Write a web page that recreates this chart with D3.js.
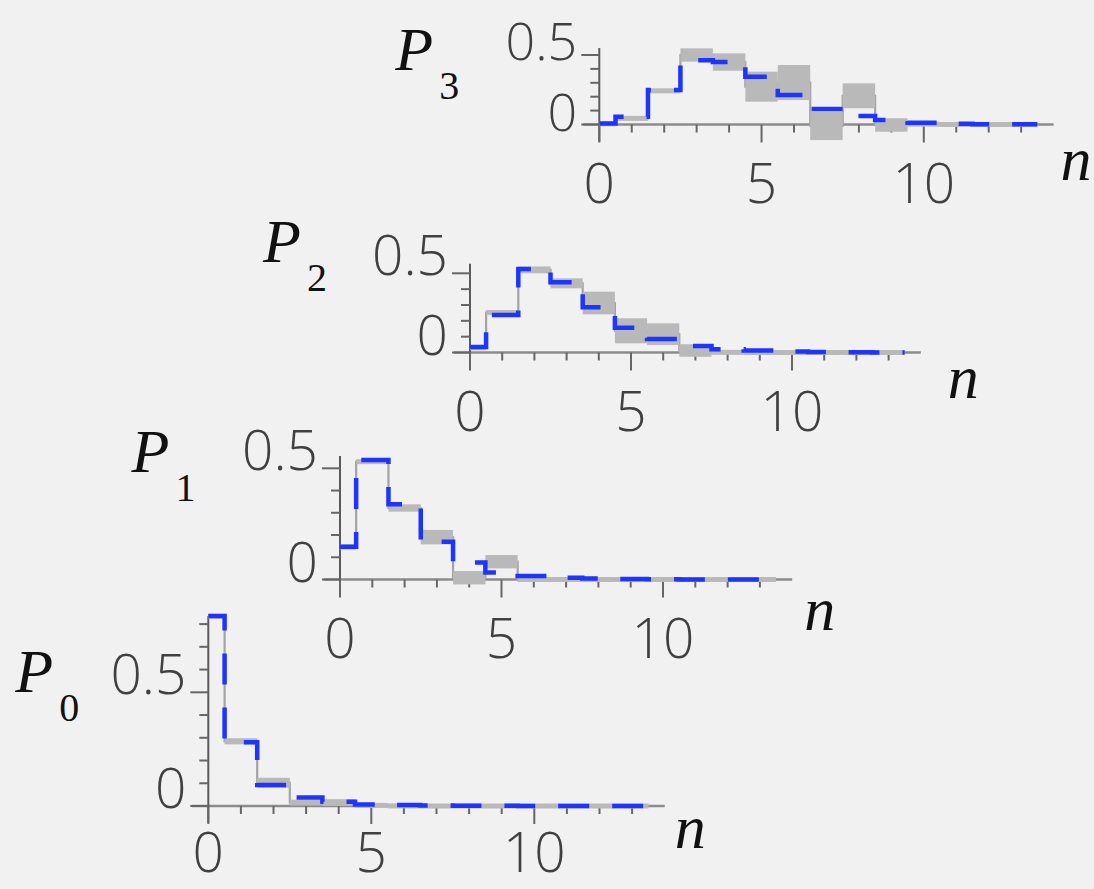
<!DOCTYPE html>
<html><head><meta charset="utf-8">
<script src="https://cdn.jsdelivr.net/npm/d3@7"></script>
<style>
html,body{margin:0;padding:0;background:#f1f1f1;}
svg{display:block;}
</style></head><body>
<svg id="chart" width="1094" height="889"></svg>
<script>
// ---------- data ----------
const nValues = d3.range(0, 14);          // n = 0 .. 13
const xTickValues = d3.range(0, 14);      // minor ticks every 1
const xMajorTicks = [0, 5, 10];           // labelled ticks
const yMajorTicks = [0, 0.5];             // labelled ticks

// P0
const p0Theory = [0.836, 0.280, 0.092, 0.037, 0.019, 0.007, 0.004, 0.002, 0.001, 0.001, 0, 0, 0, 0];
const p0Low    = [0.828, 0.271, 0.080, 0.002, 0.000, -0.005, -0.005, -0.005, -0.005, -0.005, -0.005, -0.005, -0.005, -0.005];
const p0High   = [0.840, 0.298, 0.124, 0.028, 0.030, 0.010, 0.006, 0.005, 0.005, 0.005, 0.005, 0.005, 0.005, 0.005];
// P1
const p1Theory = [0.147, 0.537, 0.338, 0.170, 0.077, 0.032, 0.016, 0.008, 0.004, 0.002, 0.001, 0, 0, 0];
const p1Low    = [0.140, 0.520, 0.305, 0.158, -0.022, 0.050, -0.008, -0.006, -0.006, -0.006, -0.006, -0.006, -0.006, -0.006];
const p1High   = [0.152, 0.540, 0.338, 0.223, 0.038, 0.110, 0.008, 0.006, 0.006, 0.006, 0.006, 0.006, 0.006, 0.006];
// P2
const p2Theory = [0.034, 0.237, 0.527, 0.443, 0.285, 0.157, 0.085, 0.041, 0.020, 0.012, 0.006, 0.003, 0.001, 0];
const p2Low    = [0.022, 0.245, 0.500, 0.405, 0.241, 0.058, 0.047, -0.027, -0.008, -0.008, -0.008, -0.008, -0.008, -0.008];
const p2High   = [0.040, 0.260, 0.543, 0.468, 0.384, 0.216, 0.184, 0.052, 0.010, 0.008, 0.008, 0.008, 0.008, 0.008];
// P3
const p3Theory = [0.008, 0.056, 0.248, 0.462, 0.450, 0.344, 0.212, 0.112, 0.061, 0.032, 0.012, 0.005, 0.002, 0.001];
const p3Low    = [-0.005, 0.027, 0.224, 0.452, 0.387, 0.164, 0.176, -0.112, 0.117, -0.052, -0.012, -0.008, -0.008, -0.008];
const p3High   = [0.015, 0.061, 0.260, 0.548, 0.512, 0.380, 0.428, 0.092, 0.296, 0.045, 0.016, 0.008, 0.008, 0.008];

// ---------- layout (positions / styles only) ----------
const panels = [
  {sub:"0", theory:p0Theory, low:p0Low, high:p0High, x0:208.3, y0:806,   xUnit:32.6,  yUnit:227.4, yTickMax:0.8, yTop:0.835, pDx:-193,   pDy:-114,  nDx:10, nDy:42, xlDy:66, ylDy:2,   yl0Dy:2,   ylFont:55},
  {sub:"1", theory:p1Theory, low:p1Low, high:p1High, x0:340,   y0:579.5, xUnit:32.3,  yUnit:222.4, yTickMax:0.5, yTop:0.555, pDx:-208.5, pDy:-108,  nDx:12, nDy:50, xlDy:78, ylDy:2,   yl0Dy:2,   ylFont:55},
  {sub:"2", theory:p2Theory, low:p2Low, high:p2High, x0:470,   y0:352.5, xUnit:32.2,  yUnit:158.4, yTickMax:0.5, yTop:0.560, pDx:-207,   pDy:-90.5, nDx:27, nDy:45, xlDy:78, ylDy:2,   yl0Dy:2,   ylFont:55},
  {sub:"3", theory:p3Theory, low:p3Low, high:p3High, x0:599.3, y0:124.5, xUnit:32.45, yUnit:139,   yTickMax:0.5, yTop:0.550, pDx:-204,   pDy:-54.5, nDx:7,  nDy:55, xlDy:78, ylDy:4.5, yl0Dy:6.5, ylFont:52}
];

const svg = d3.select("#chart");
const tickFont = "'Open Sans', 'Liberation Sans', sans-serif";
const serif = "'Liberation Serif', 'Times New Roman', serif";

panels.forEach(p => {
  const x = d3.scaleLinear().domain([0, 14]).range([p.x0, p.x0 + 14 * p.xUnit]);
  const y = d3.scaleLinear().domain([0, 0.5]).range([p.y0, p.y0 - 0.5 * p.yUnit]);
  const g = svg.append("g");

  // axes lines
  g.append("line")
    .attr("x1", x(-0.5)).attr("x2", x(14))
    .attr("y1", y(0)).attr("y2", y(0))
    .attr("stroke", "#8c8c8c").attr("stroke-width", 2.5);
  g.append("line")
    .attr("x1", x(0)).attr("x2", x(0))
    .attr("y1", y(p.yTop)).attr("y2", y(0) + 17)
    .attr("stroke", "#5a5a5a").attr("stroke-width", 2);

  // x ticks
  g.selectAll(".xt").data(xTickValues).join("line")
    .attr("x1", d => x(d)).attr("x2", d => x(d))
    .attr("y1", y(0)).attr("y2", d => y(0) + (xMajorTicks.includes(d) ? 18 : 8))
    .attr("stroke", "#666").attr("stroke-width", 2);

  // y ticks
  const yTicks = d3.range(0, Math.round(p.yTickMax * 10) + 1).map(i => i / 10);
  g.selectAll(".yt").data(yTicks).join("line")
    .attr("x1", d => x(0) - (yMajorTicks.includes(d) ? 18 : 9)).attr("x2", x(0))
    .attr("y1", d => y(d)).attr("y2", d => y(d))
    .attr("stroke", "#666").attr("stroke-width", 2);

  // gray step line through the middle of each band
  const mids = nValues.map(n => (p.low[n] + p.high[n]) / 2);
  const stepPts = (vals) => nValues.map(n => [Math.max(0, n - 0.5), vals[n]])
      .concat([[nValues[nValues.length - 1] + 0.5, vals[vals.length - 1]]]);
  const line = d3.line().x(d => x(d[0])).y(d => y(d[1])).curve(d3.curveStepAfter);
  g.append("path").attr("d", line(stepPts(mids)))
    .attr("fill", "none").attr("stroke", "#a3a3a3").attr("stroke-width", 2.2);

  // gray bands
  g.selectAll(".band").data(nValues).join("rect")
    .attr("x", n => x(Math.max(0, n - 0.5)))
    .attr("width", n => x(n + 0.5) - x(Math.max(0, n - 0.5)))
    .attr("y", n => {
      const h = Math.abs(y(p.low[n]) - y(p.high[n]));
      const c = (y(p.low[n]) + y(p.high[n])) / 2;
      return h < 5 ? c - 2.5 : y(p.high[n]);
    })
    .attr("height", n => Math.max(5, Math.abs(y(p.low[n]) - y(p.high[n]))))
    .attr("fill", "#b9b9b9");

  // blue dashed theory step
  g.append("path").attr("d", line(stepPts(p.theory)))
    .attr("fill", "none").attr("stroke", "#1f35ff").attr("stroke-width", 4.5)
    .attr("stroke-dasharray", "31,23");

  // tick labels
  g.selectAll(".yl").data(yMajorTicks).join("text")
    .attr("x", x(0) - 22).attr("y", d => y(d) + (d === 0 ? p.yl0Dy : p.ylDy))
    .attr("text-anchor", "end")
    .attr("font-family", tickFont).attr("font-weight", 300)
    .attr("font-size", p.ylFont).attr("fill", "#404040")
    .text(d => d === 0 ? "0" : d3.format(".1f")(d));
  g.selectAll(".xl").data(xMajorTicks).join("text")
    .attr("x", d => x(d)).attr("y", y(0) + p.xlDy)
    .attr("text-anchor", "middle")
    .attr("font-family", tickFont).attr("font-weight", 300)
    .attr("font-size", 55).attr("fill", "#404040")
    .text(d => String(d));

  // P_k label
  const px = x(0) + p.pDx, py = y(0) + p.pDy;
  g.append("text").attr("x", px).attr("y", py)
    .attr("font-family", serif).attr("font-style", "italic")
    .attr("font-size", 62).attr("fill", "#111").text("P");
  g.append("text").attr("x", px + 44).attr("y", py + 29)
    .attr("font-family", serif)
    .attr("font-size", 40).attr("fill", "#111").text(p.sub);

  // n label
  g.append("text").attr("x", x(14) + p.nDx).attr("y", y(0) + p.nDy)
    .attr("font-family", serif).attr("font-style", "italic")
    .attr("font-size", 62).attr("fill", "#111").text("n");
});
</script>
</body></html>
